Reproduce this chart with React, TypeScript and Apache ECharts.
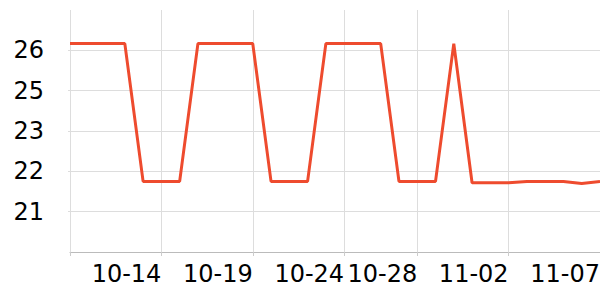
import React, { useEffect, useRef } from "react";
import * as echarts from "echarts";

const dates = [
  "10-09", "10-10", "10-11", "10-12", "10-13", "10-14", "10-15", "10-16", "10-17", "10-18",
  "10-19", "10-20", "10-21", "10-22", "10-23", "10-24", "10-25", "10-26", "10-27", "10-28",
  "10-29", "10-30", "10-31", "11-01", "11-02", "11-03", "11-04", "11-05", "11-06", "11-07",
];
const values = [
  26, 26, 26, 26, 21.9, 21.9, 21.9, 26, 26, 26,
  26, 21.9, 21.9, 21.9, 26, 26, 26, 26, 21.9, 21.9,
  21.9, 26, 21.86, 21.86, 21.86, 21.9, 21.9, 21.9, 21.84, 21.9,
];
const labelIndices = [5, 10, 15, 19, 24, 29];
const tickIndices = [0, 5, 10, 15, 19, 24, 29];

export default function App() {
  const ref = useRef<HTMLDivElement>(null);
  useEffect(() => {
    if (!ref.current) return;
    const chart = echarts.init(ref.current, null, { renderer: "svg" });
    chart.setOption({
      animation: false,
      grid: { left: 70, right: 0, top: 10, bottom: 48, containLabel: false, outerBoundsMode: "none" },
      xAxis: {
        type: "category",
        data: dates,
        boundaryGap: false,
        axisLine: { show: true, lineStyle: { color: "#bbb", width: 1 } },
        axisTick: {
          show: true,
          length: 4,
          interval: (i: number) => tickIndices.includes(i),
          lineStyle: { color: "#ccc" },
        },
        splitLine: {
          show: true,
          interval: (i: number) => tickIndices.includes(i),
          lineStyle: { color: "#ddd", width: 1 },
        },
        axisLabel: {
          interval: (i: number) => labelIndices.includes(i),
          align: "right",
          margin: 10,
          fontSize: 24,
          fontFamily: "DejaVu Sans",
          color: "#000",
        },
      },
      yAxis: {
        type: "value",
        min: 19.8,
        max: 27,
        interval: 1.2,
        axisLine: { show: false },
        axisTick: { show: true, length: 2, lineStyle: { color: "#ddd" } },
        splitLine: { show: true, showMaxLine: false, lineStyle: { color: "#ddd", width: 1 } },
        axisLabel: {
          showMinLabel: false,
          showMaxLabel: false,
          margin: 26,
          fontSize: 24,
          fontFamily: "DejaVu Sans",
          color: "#000",
          formatter: (v: number) => String(Math.round(v)),
        },
      },
      series: [
        {
          type: "line",
          data: values,
          showSymbol: false,
          symbol: "none",
          lineStyle: { color: "#ee4b2e", width: 3 },
          itemStyle: { color: "#ee4b2e" },
        },
      ],
    });
    return () => chart.dispose();
  }, []);
  return (
    <div
      ref={ref}
      style={{ position: "absolute", left: 0, top: 0, width: 600, height: 300 }}
    />
  );
}
